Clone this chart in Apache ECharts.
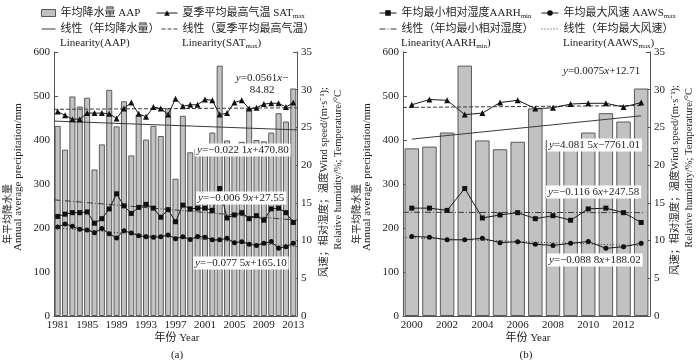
<!DOCTYPE html>
<html>
<head>
<meta charset="utf-8">
<script src="https://cdn.jsdelivr.net/npm/echarts@6/dist/echarts.min.js"></script>
<style>
html,body{margin:0;padding:0;background:#fff}
#chart{width:700px;height:362px}
</style>
</head>
<body>
<div id="chart"></div>
<script>
// data
const years = ['1981','1982','1983','1984','1985','1986','1987','1988','1989','1990','1991',
  '1992','1993','1994','1995','1996','1997','1998','1999','2000','2001','2002','2003','2004',
  '2005','2006','2007','2008','2009','2010','2011','2012','2013']
const aap = [432,378,499,476,496,333,390,514,431,488,365,457,401,432,409,472,312,455,372,
  381,385,417,569,399,379,396,472,400,397,417,461,442,517]
const sat = [27.1,26.6,26.1,26.1,26.9,26.9,26.9,26.8,26.2,27.5,28.3,26.8,26.4,27.7,27.5,26.7,
  28.8,27.8,28.0,28.0,28.7,28.6,26.7,26.9,28.3,28.6,27.5,27.6,28.1,28.2,28.2,27.7,28.3]
const aarh = [13.2,13.5,13.7,13.7,13.8,12.3,12.9,14.2,16.2,14.6,13.6,14.4,14.8,14.3,13.1,14.1,
  12.5,14.7,14.2,14.3,14.3,14.0,16.9,13.0,13.4,13.7,12.9,13.3,12.7,14.2,14.3,13.7,12.4]
const aaws = [11.8,12.2,11.9,11.5,11.4,11.05,11.6,10.9,10.35,11.3,11.0,10.65,10.5,10.45,10.5,
  10.75,10.25,10.5,10.15,10.55,10.45,10.1,10.1,10.3,9.72,9.85,9.52,9.35,9.64,9.87,8.97,9.19,9.64]

// linear fits, endpoints [year, value]
const aapTrendA = [[1980.5, 443], [2013.5, 423]]
const satTrendA = [[1980.5, 27.4], [2013.5, 27.6]]
const aarhTrendA = [[1980.5, 15.4], [2013.5, 12.7]]
const aawsTrendA = [[1980.5, 11.7], [2013.5, 9.2]]
const aapTrendB = [[2000, 402], [2013, 455]]
const satTrendB = [[1999.5, 27.65], [2013.1, 27.9]]
const aarhTrendB = [[1999.5, 13.75], [2013.1, 13.7]]
const aawsTrendB = [[1999.5, 10.4], [2013.1, 9.3]]

const startB = years.indexOf('2000')

const FONT = '"Liberation Serif","Noto Sans CJK SC",serif'
const AX = '#555'
const TXT = '#222'

const N = {
  aap: '年均降水量 AAP',
  sat: '夏季平均最高气温 SAT',
  aarh: '年均最小相对湿度AARH',
  aaws: '年均最大风速 AAWS',
  aapT: '线性（年均降水量）',
  satT: '线性（夏季平均最高气温）',
  aarhT: '线性（年均最小相对湿度）',
  aawsT: '线性（年均最大风速）'
}
const legendText = {}
legendText[N.sat] = '夏季平均最高气温 SAT{s|max}'
legendText[N.aarh] = '年均最小相对湿度AARH{s|min}'
legendText[N.aaws] = '年均最大风速 AAWS{s|max}'

const RICH = {
  s: { fontSize: 7, fontFamily: FONT, color: TXT, fill: TXT, verticalAlign: 'bottom', lineHeight: 14 },
  i: { fontSize: 11, fontFamily: FONT, fontStyle: 'italic', color: TXT, fill: TXT }
}

function lg(name, left, top, w, extra) {
  return Object.assign({
    data: [name], left: left, top: top, padding: 0, itemGap: 0,
    itemWidth: w, itemHeight: 7, selectedMode: false,
    textStyle: { fontSize: 11, fontFamily: FONT, color: TXT, lineHeight: 14, rich: RICH },
    formatter: function(n) { return legendText[n] || n },
    lineStyle: { width: 1 },
    itemStyle: { borderWidth: 0 }
  }, extra || {})
}

function catX(gi, data, interval) {
  return {
    type: 'category', gridIndex: gi, data: data, boundaryGap: true,
    axisLine: { lineStyle: { color: AX } },
    axisTick: { show: false },
    axisLabel: { interval: interval, margin: 4, fontSize: 11, fontFamily: FONT, color: TXT }
  }
}
function valX(gi, min, max) {
  return { type: 'value', gridIndex: gi, min: min, max: max, show: false }
}
function yAx(gi, pos, max, interval) {
  return {
    type: 'value', gridIndex: gi, position: pos, min: 0, max: max, interval: interval,
    axisLine: { show: true, lineStyle: { color: AX } },
    axisTick: { show: true, inside: true, length: 4, lineStyle: { color: AX } },
    axisLabel: { margin: 4, fontSize: 11, fontFamily: FONT, color: TXT },
    splitLine: { show: false }
  }
}

function bars(xi, yi, data) {
  return {
    name: N.aap, type: 'bar', xAxisIndex: xi, yAxisIndex: yi, data: data,
    barCategoryGap: '18%', z: 1,
    itemStyle: { color: '#c2c2c2', borderColor: '#5a5a5a', borderWidth: 1 }
  }
}
function line(name, xi, yi, data, symbol, size) {
  return {
    name: name, type: 'line', xAxisIndex: xi, yAxisIndex: yi, data: data,
    symbol: symbol, symbolSize: size, showAllSymbol: true, z: 4,
    lineStyle: { color: '#1a1a1a', width: 1 },
    itemStyle: { color: '#111' }
  }
}
function trend(name, xi, yi, data, type) {
  return {
    name: name, type: 'line', xAxisIndex: xi, yAxisIndex: yi, data: data,
    symbol: 'none', z: 3,
    lineStyle: { color: '#3a3a3a', width: 1, type: type }
  }
}

const DASH = [4, 2]
const DASHDOT = [6, 2, 1, 2]
const DOT = [1, 2]

function txt(x, y, text, o) {
  o = o || {}
  return {
    type: 'text', x: x, y: y, z: 100, rotation: o.rot || 0,
    style: {
      text: text, fontSize: o.size || 11, fontFamily: FONT, fill: TXT,
      align: o.align || 'left', verticalAlign: 'middle',
      backgroundColor: o.bg, padding: o.bg ? [1, 2, 1, 2] : 0,
      lineHeight: o.lh, rich: RICH
    }
  }
}
const R = Math.PI / 2

const chart = echarts.init(document.getElementById('chart'))
chart.setOption({
  animation: false,
  backgroundColor: '#fff',
  grid: [
    { left: 54, right: 403, top: 52, bottom: 46 },
    { left: 403, right: 50, top: 52, bottom: 46 }
  ],
  xAxis: [
    catX(0, years, 3),
    valX(0, 1980.5, 2013.5),
    catX(1, years.slice(startB), 1),
    valX(1, 1999.5, 2013.5)
  ],
  yAxis: [
    yAx(0, 'left', 600, 100),
    yAx(0, 'right', 35, 5),
    yAx(1, 'left', 600, 100),
    yAx(1, 'right', 35, 5)
  ],
  legend: [
    lg(N.aap, 41, 6, 14, { icon: 'rect', itemStyle: { borderWidth: 1 } }),
    lg(N.sat, 156, 6, 21),
    lg(N.aapT, 41, 22, 14, { itemStyle: { opacity: 0 } }),
    lg(N.satT, 161, 22, 16, { itemStyle: { opacity: 0 } }),
    lg(N.aarh, 379, 6, 17),
    lg(N.aaws, 541, 6, 17),
    lg(N.aarhT, 379, 22, 17, { itemStyle: { opacity: 0 } }),
    lg(N.aawsT, 541, 22, 17, { itemStyle: { opacity: 0 } })
  ],
  series: [
    bars(0, 0, aap),
    trend(N.aapT, 1, 0, aapTrendA, 'solid'),
    trend(N.satT, 1, 1, satTrendA, DASH),
    trend(N.aarhT, 1, 1, aarhTrendA, DASHDOT),
    trend(N.aawsT, 1, 1, aawsTrendA, DOT),
    line(N.sat, 0, 1, sat, 'triangle', 6),
    line(N.aarh, 0, 1, aarh, 'rect', 5),
    line(N.aaws, 0, 1, aaws, 'circle', 5),

    bars(2, 2, aap.slice(startB)),
    trend(N.aapT, 3, 2, aapTrendB, 'solid'),
    trend(N.satT, 3, 3, satTrendB, DASH),
    trend(N.aarhT, 3, 3, aarhTrendB, DASHDOT),
    trend(N.aawsT, 3, 3, aawsTrendB, DOT),
    line(N.sat, 2, 3, sat.slice(startB), 'triangle', 6),
    line(N.aarh, 2, 3, aarh.slice(startB), 'rect', 5),
    line(N.aaws, 2, 3, aaws.slice(startB), 'circle', 5)
  ],
  graphic: [
    txt(60, 43, 'Linearity(AAP)'),
    txt(182, 43, 'Linearity(SAT{s|max})'),
    txt(401, 43, 'Linearity(AARH{s|min})'),
    txt(563, 43, 'Linearity(AAWS{s|max})'),

    // equations, panel a
    txt(262, 84, '{i|y}=0.0561{i|x}−\n84.82', { align: 'center', lh: 12 }),
    txt(195, 150, '{i|y}=−0.022 1{i|x}+470.80', { bg: '#fff' }),
    txt(196, 198, '{i|y}=−0.006 9{i|x}+27.55', { bg: '#fff' }),
    txt(193, 263, '{i|y}=−0.077 5{i|x}+165.10', { bg: '#fff' }),
    // equations, panel b
    txt(563, 71, '{i|y}=0.0075{i|x}+12.71'),
    txt(547, 145, '{i|y}=4.081 5{i|x}−7761.01', { bg: '#fff' }),
    txt(546, 192, '{i|y}=−0.116 6{i|x}+247.58', { bg: '#fff' }),
    txt(547, 260, '{i|y}=−0.088 8{i|x}+188.02', { bg: '#fff' }),

    // axis names
    txt(8, 214, '年平均降水量', { rot: R, align: 'center', size: 10 }),
    txt(18, 177, 'Annual average precipitation/mm', { rot: R, align: 'center' }),
    txt(324, 87, '风速；相对湿度；温度Wind speed/(m·s⁻¹);', { rot: R, align: 'right', size: 10.5 }),
    txt(338, 90, 'Relative humidity/%; Temperature/°C', { rot: R, align: 'right', size: 10.5 }),
    txt(357, 214, '年平均降水量', { rot: R, align: 'center', size: 10 }),
    txt(367, 177, 'Annual average precipitation/mm', { rot: R, align: 'center' }),
    txt(675, 85, '风速；相对湿度；温度Wind speed/(m·s⁻¹);', { rot: R, align: 'right', size: 10.5 }),
    txt(689, 88, 'Relative humidity/%; Temperature/°C', { rot: R, align: 'right', size: 10.5 }),

    txt(177, 338, '年份 Year', { align: 'center' }),
    txt(177, 355, '(a)', { align: 'center' }),
    txt(528, 338, '年份 Year', { align: 'center' }),
    txt(526, 355, '(b)', { align: 'center' })
  ]
})
</script>
</body>
</html>
